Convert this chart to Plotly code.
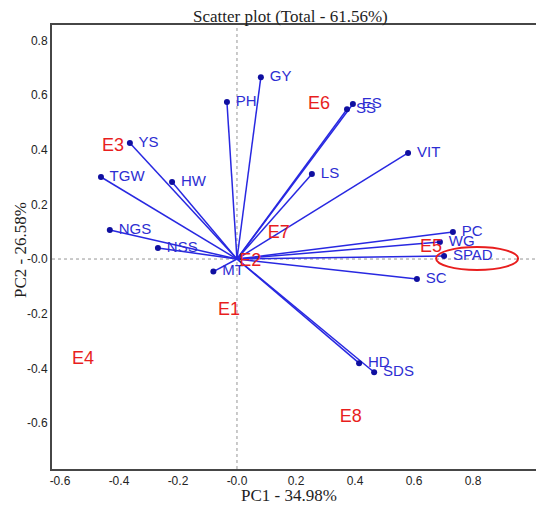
import plotly.graph_objects as go

# Variable loadings (PC1, PC2)
traits = ["GY", "PH", "YS", "TGW", "HW", "NGS", "NSS", "MT", "SS", "ES", "LS", "VIT",
          "PC", "WG", "SPAD", "SC", "HD", "SDS"]
pc1 = [0.081, -0.034, -0.363, -0.461, -0.220, -0.431, -0.268, -0.080, 0.373, 0.393, 0.254, 0.580,
       0.732, 0.688, 0.702, 0.610, 0.414, 0.465]
pc2 = [0.665, 0.574, 0.424, 0.300, 0.282, 0.106, 0.040, -0.046, 0.548, 0.567, 0.311, 0.388,
       0.099, 0.062, 0.011, -0.073, -0.381, -0.414]

# Environment scores
envs = ["E1", "E2", "E3", "E4", "E5", "E6", "E7", "E8"]
env_pc1 = [-0.027, 0.045, -0.420, -0.522, 0.658, 0.278, 0.142, 0.386]
env_pc2 = [-0.190, -0.008, 0.410, -0.366, 0.044, 0.567, 0.095, -0.580]

# Highlight ellipse around SPAD (data units)
ellipse_x = [0.675, 0.953]
ellipse_y = [-0.040, 0.044]

tick_vals_x = [-0.6, -0.4, -0.2, 0.0, 0.2, 0.4, 0.6, 0.8]
tick_text_x = ["-0.6", "-0.4", "-0.2", "-0.0", "0.2", "0.4", "0.6", "0.8"]
tick_vals_y = [-0.6, -0.4, -0.2, 0.0, 0.2, 0.4, 0.6, 0.8]
tick_text_y = ["-0.6", "-0.4", "-0.2", "-0.0", "0.2", "0.4", "0.6", "0.8"]

BLUE_LINE = "rgb(40,40,225)"
BLUE_DOT = "rgb(15,15,160)"
BLUE_TEXT = "rgb(45,45,210)"
RED = "rgb(232,30,30)"
SERIF = "Liberation Serif, Times New Roman, serif"
SANS = "Liberation Sans, Arial, sans-serif"

fig = go.Figure()

# vectors
vx, vy = [], []
for a, b in zip(pc1, pc2):
    vx += [0, a, None]
    vy += [0, b, None]
fig.add_trace(go.Scatter(x=vx, y=vy, mode="lines",
                         line=dict(color=BLUE_LINE, width=1.5),
                         hoverinfo="skip", showlegend=False))

# trait points + labels
fig.add_trace(go.Scatter(x=pc1, y=pc2, mode="markers+text", text=[" " + t for t in traits],
                         textposition="middle right",
                         textfont=dict(family=SANS, size=15, color=BLUE_TEXT),
                         marker=dict(color=BLUE_DOT, size=6),
                         showlegend=False))

# environment labels
fig.add_trace(go.Scatter(x=env_pc1, y=env_pc2, mode="text", text=envs,
                         textposition="middle center",
                         textfont=dict(family=SANS, size=18, color=RED),
                         showlegend=False))

# dotted zero lines
fig.add_shape(type="line", xref="x", yref="paper", x0=0, x1=0, y0=0, y1=1,
              line=dict(color="rgb(150,150,150)", width=1, dash="dot"), layer="below")
fig.add_shape(type="line", xref="paper", yref="y", x0=0, x1=1, y0=0, y1=0,
              line=dict(color="rgb(150,150,150)", width=1, dash="dot"), layer="below")

# ellipse
fig.add_shape(type="circle", xref="x", yref="y",
              x0=ellipse_x[0], x1=ellipse_x[1], y0=ellipse_y[0], y1=ellipse_y[1],
              line=dict(color=RED, width=2))

axis_common = dict(showgrid=False, zeroline=False, showline=True, linewidth=2,
                   linecolor="rgb(70,70,70)", ticks="", automargin=False,
                   tickfont=dict(family=SANS, size=12, color="rgb(35,35,35)"))

# page body has an 8px margin, so the figure is 536x497 and offset by 8px
fig.update_layout(
    width=536, height=497,
    margin=dict(l=44, r=2, t=17, b=36),
    paper_bgcolor="white", plot_bgcolor="white",
    xaxis=dict(range=[-0.627, 1.034], tickvals=tick_vals_x, ticktext=tick_text_x,
               mirror=True, **axis_common),
    yaxis=dict(range=[-0.768, 0.856], tickvals=tick_vals_y, ticktext=tick_text_y,
               mirror=False, **axis_common),
)

# titles (positions given relative to the plot area: left 52px, bottom 469px on the page)
fig.add_annotation(text="Scatter plot (Total - 61.56%)", xref="paper", yref="paper",
                   x=(290 - 52) / 490, y=(469 - 16) / 444, xanchor="center", yanchor="middle",
                   showarrow=False, font=dict(family=SERIF, size=17, color="rgb(30,30,30)"))
fig.add_annotation(text="PC1 - 34.98%", xref="paper", yref="paper",
                   x=(289 - 52) / 490, y=(469 - 496) / 444, xanchor="center", yanchor="middle",
                   showarrow=False, font=dict(family=SERIF, size=17, color="rgb(30,30,30)"))
fig.add_annotation(text="PC2 - 26.58%", xref="paper", yref="paper", textangle=-90,
                   x=(20 - 52) / 490, y=(469 - 250) / 444, xanchor="center", yanchor="middle",
                   showarrow=False, font=dict(family=SERIF, size=17, color="rgb(30,30,30)"))

fig.write_html("out.html")
